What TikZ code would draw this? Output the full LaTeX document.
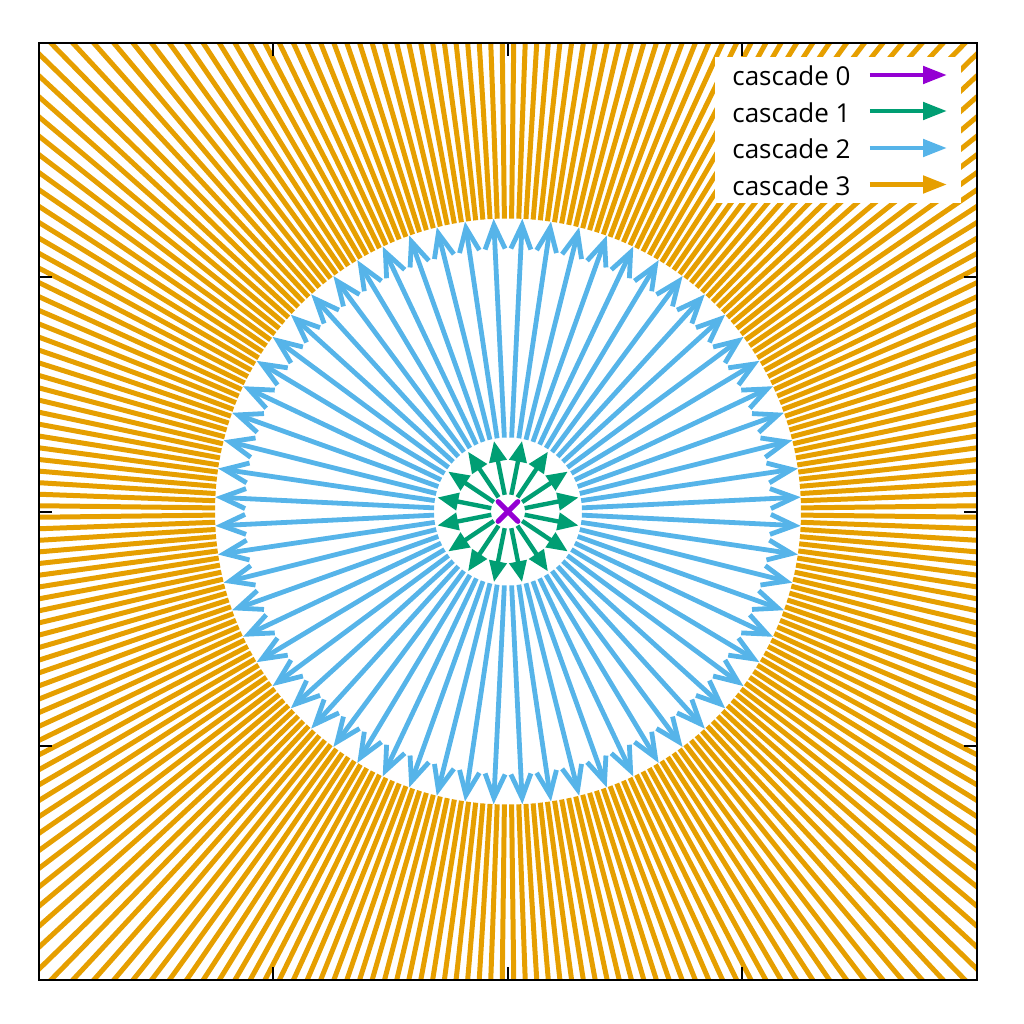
\documentclass[tikz,border=0pt]{standalone}
\usepackage{fontspec}
\setmainfont{Open Sans}
\usetikzlibrary{arrows.meta}
\definecolor{c0}{HTML}{9400D3}
\definecolor{c1}{HTML}{009E73}
\definecolor{c2}{HTML}{56B4E9}
\definecolor{c3}{HTML}{E69F00}
\begin{document}
\begin{tikzpicture}[x=0.5pt,y=0.5pt,
  ray0/.style={c0,line width=2.5pt,line cap=round},
  ray1/.style={c1,line width=2.2pt,-{Triangle[length=10.5pt,width=8.5pt]}},
  ray2/.style={c2,line width=2.4pt,-{Straight Barb[length=12pt,width=10pt]}},
  ray3/.style={c3,line width=2.5pt},
  legarrow/.style={line width=2.4pt,-{Triangle[length=12pt,width=8.5pt]}},
  legtext/.style={anchor=base west,font=\fontsize{13}{15}\selectfont,inner sep=0pt},
  frame/.style={black,line width=1pt},
  tick/.style={black,line width=1pt}]
\useasboundingbox (-508,-512.5) rectangle (516,511.5);
\begin{scope}
\clip (-469,-468.5) rectangle (469,468.5);
\foreach \i in {0,...,255} \draw[ray3] ({(\i+0.5)*1.40625}:293) -- ({(\i+0.5)*1.40625}:720);
\end{scope}
\foreach \i in {0,...,63} \draw[ray2] ({(\i+0.5)*5.625}:74) -- ({(\i+0.5)*5.625}:293);
\foreach \i in {0,...,15} \draw[ray1] ({(\i+0.5)*22.5}:17) -- ({(\i+0.5)*22.5}:72);
\foreach \i in {0,...,3} \draw[ray0] (0,0) -- ({(\i+0.5)*90}:14);
% legend
\fill[white] (207,308.5) rectangle (453,454.5);
\node[legtext] (t0) at (224,426) {cascade 0};
\node[legtext] (t1) at (224,389.3) {cascade 1};
\node[legtext] (t2) at (224,352.6) {cascade 2};
\node[legtext] (t3) at (224,316) {cascade 3};
\coordinate (a0s) at (362,436.5); \coordinate (a0e) at (439,436.5);
\coordinate (a1s) at (362,400.5); \coordinate (a1e) at (439,400.5);
\coordinate (a2s) at (362,363.5); \coordinate (a2e) at (439,363.5);
\coordinate (a3s) at (362,327); \coordinate (a3e) at (439,327);
\draw[legarrow,c0] (a0s) -- (a0e);
\draw[legarrow,c1] (a1s) -- (a1e);
\draw[legarrow,c2] (a2s) -- (a2e);
\draw[legarrow,c3] (a3s) -- (a3e);
% frame and ticks
\draw[frame] (-469,-468.5) rectangle (469,468.5);
\foreach \x in {-234.5,0,234.5} {
  \draw[tick] (\x,-468.5) -- ++(0,13);
  \draw[tick] (\x,468.5) -- ++(0,-13);
}
\foreach \y in {-234.5,0,234.5} {
  \draw[tick] (-469,\y) -- ++(13,0);
  \draw[tick] (469,\y) -- ++(-13,0);
}
\end{tikzpicture}
\end{document}
